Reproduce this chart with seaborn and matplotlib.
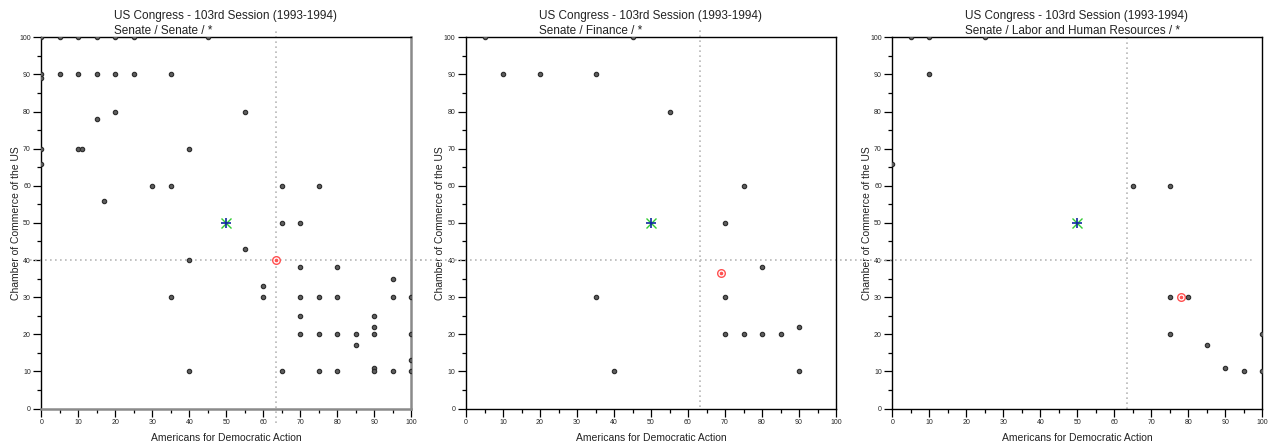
import matplotlib
matplotlib.use("Agg")
import matplotlib.pyplot as plt
import seaborn as sns
import pandas as pd

# Interest-group ratings of senators (ADA vs. Chamber of Commerce)
title_top = "US Congress - 103rd Session (1993-1994)"
subtitles = ["Senate / Senate / *", "Senate / Finance / *",
             "Senate / Labor and Human Resources / *"]
x_label = "Americans for Democratic Action"
y_label = "Chamber of Commerce of the US"

senate_ada = [0, 5, 10, 15, 20, 25, 45,
              0, 0, 5, 10, 15, 20, 25, 35,
              20, 55, 15,
              0, 10, 11, 40,
              0,
              30, 35, 65, 75,
              17,
              65, 70,
              55,
              40,
              70, 80,
              95,
              60,
              35, 60, 70, 75, 80, 95, 100,
              70, 90,
              90,
              70, 75, 80, 85, 90, 100,
              85,
              100,
              90,
              40, 65, 75, 80, 90, 95, 100]
senate_coc = [100, 100, 100, 100, 100, 100, 100,
              90, 89, 90, 90, 90, 90, 90, 90,
              80, 80, 78,
              70, 70, 70, 70,
              66,
              60, 60, 60, 60,
              56,
              50, 50,
              43,
              40,
              38, 38,
              35,
              33,
              30, 30, 30, 30, 30, 30, 30,
              25, 25,
              22,
              20, 20, 20, 20, 20, 20,
              17,
              13,
              11,
              10, 10, 10, 10, 10, 10, 10]

finance_ada = [5, 45, 10, 20, 35, 55, 75, 70, 80, 35, 70,
               70, 75, 80, 85, 90, 40, 90]
finance_coc = [100, 100, 90, 90, 90, 80, 60, 50, 38, 30, 30,
               20, 20, 20, 20, 22, 10, 10]

labor_ada = [5, 10, 25, 10, 0, 65, 75, 75, 80, 75, 100, 85, 90, 95, 100]
labor_coc = [100, 100, 100, 90, 66, 60, 60, 30, 30, 20, 20, 17, 11, 10, 10]

# Group centre (red target) for each panel, chamber centre (dotted lines)
group_centre_ada = [63.4, 69.0, 78.0]
group_centre_coc = [40.0, 36.4, 30.0]
chamber_ada = 63.3
chamber_coc = 40.0
scale_mid = (50, 50)

panels = [(senate_ada, senate_coc), (finance_ada, finance_coc),
          (labor_ada, labor_coc)]

sns.set_style("white")
plt.rcParams["font.family"] = ["Liberation Sans", "DejaVu Sans"]

fig = plt.figure(figsize=(12.68, 4.45), dpi=100)
lefts = [41.3, 466.0, 892.3]
W, H = 1268.0, 445.0
ax_w = 370.0
ax_top, ax_bot = 37.3, 408.5

hline_span = [(-0.03, 1.03), (-0.125, 1.035), (-0.128, 0.972)]
vline_span = [(-0.04, 1.02), (0.004, 1.02), (0.0, 1.0)]

for i, (xs, ys) in enumerate(panels):
    ax = fig.add_axes([lefts[i] / W, (H - ax_bot) / H, ax_w / W,
                       (ax_bot - ax_top) / H])
    df = pd.DataFrame({"ada": xs, "coc": ys})

    ax.set_xlim(0, 100)
    ax.set_ylim(0, 100)

    # chamber reference lines
    ax.axhline(chamber_coc, xmin=hline_span[i][0], xmax=hline_span[i][1],
               color="#b8b8b8", linestyle=(0, (1, 2)), linewidth=1.2,
               clip_on=False, zorder=1)
    ax.axvline(chamber_ada, ymin=vline_span[i][0], ymax=vline_span[i][1],
               color="#b8b8b8", linestyle=(0, (1, 2)), linewidth=1.2,
               clip_on=False, zorder=1)

    sns.scatterplot(data=df, x="ada", y="coc", ax=ax, color="#5e5e5e",
                    edgecolor="#2a2a2a", linewidth=0.8, s=10, zorder=3,
                    legend=False)

    # scale midpoint marker
    ax.plot(*scale_mid, marker="x", color="#33cc33", markersize=6.5,
            markeredgewidth=1.0, zorder=4)
    ax.plot(*scale_mid, marker="+", color="#102aa0", markersize=6.5,
            markeredgewidth=1.2, zorder=5)

    # group centre marker
    ax.plot(group_centre_ada[i], group_centre_coc[i], marker="o",
            markerfacecolor="white", markeredgecolor="#ff5050",
            markersize=5.5, markeredgewidth=1.0, zorder=6, clip_on=False)
    ax.plot(group_centre_ada[i], group_centre_coc[i], marker="o",
            color="#ff5050", markersize=1.6, zorder=7, clip_on=False)

    ax.set_xticks(range(0, 101, 10))
    ax.set_yticks(range(0, 101, 10))
    ax.set_xticks(range(5, 100, 10), minor=True)
    ax.set_yticks(range(5, 100, 10), minor=True)
    ax.tick_params(axis="both", which="major", direction="out", length=6,
                   width=0.9, labelsize=5, color="black", pad=1.5,
                   left=True, bottom=True)
    ax.tick_params(axis="both", which="minor", direction="out", length=3,
                   width=0.9, color="black", left=True, bottom=True)

    for side in ["left", "bottom", "top", "right"]:
        ax.spines[side].set_visible(True)
        ax.spines[side].set_color("black")
        ax.spines[side].set_linewidth(1.0)
    if i == 0:
        for side in ["bottom", "right"]:
            ax.spines[side].set_color("#8a8a8a")
            ax.spines[side].set_linewidth(1.8)

    ax.set_xlabel(x_label, fontsize=7.5, color="#222222", labelpad=5)
    ax.set_ylabel(y_label, fontsize=7.5, color="#222222", labelpad=-1)

    ax.text(0.196, 1.058, title_top, transform=ax.transAxes, ha="left",
            va="center", fontsize=8.5, color="#222222")
    ax.text(0.196, 1.018, subtitles[i], transform=ax.transAxes, ha="left",
            va="center", fontsize=8.5, color="#222222")

fig.savefig("out.png", dpi=100, facecolor="white")
